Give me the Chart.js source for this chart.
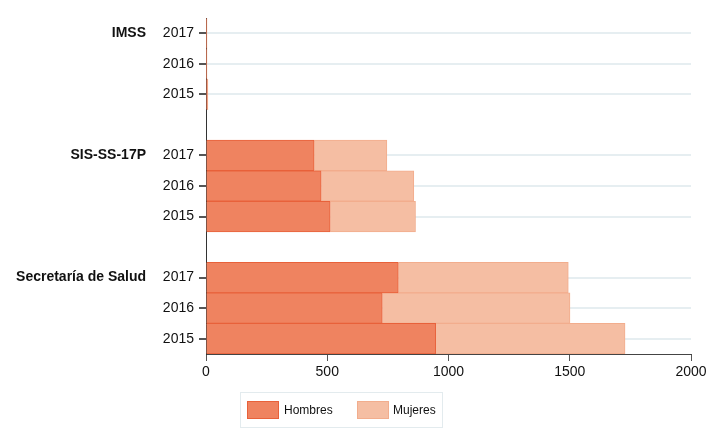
<!DOCTYPE html>
<html>
<head>
<meta charset="utf-8">
<script src="https://cdn.jsdelivr.net/npm/chart.js@4/dist/chart.umd.min.js"></script>
<style>
  html, body { margin: 0; padding: 0; background: #fff; }
  #wrap { width: 707px; height: 434px; }
</style>
</head>
<body>
<div id="wrap"><canvas id="c" width="707" height="434"></canvas></div>
<script>
// ---- data ----
const groups = ['IMSS', 'SIS-SS-17P', 'Secretaría de Salud'];
const years = ['2017', '2016', '2015'];
const hombresIMSS = [3, 3, 5];
const mujeresIMSS = [1, 1, 3];
const hombresSIS = [446, 475, 512];
const mujeresSIS = [300, 382, 352];
const hombresSalud = [793, 727, 947];
const mujeresSalud = [701, 774, 781];
const seriesNames = ['Hombres', 'Mujeres'];
const xTicks = [0, 500, 1000, 1500, 2000];

// build category rows (with a blank spacer between groups)
const labels = [];
const groupOfRow = [];
const hombres = [];
const mujeres = [];
const hData = [hombresIMSS, hombresSIS, hombresSalud];
const mData = [mujeresIMSS, mujeresSIS, mujeresSalud];
groups.forEach((g, gi) => {
  if (gi > 0) { labels.push(''); groupOfRow.push(null); hombres.push(null); mujeres.push(null); }
  years.forEach((y, yi) => {
    labels.push(y);
    groupOfRow.push(yi === 0 ? g : null);
    hombres.push(hData[gi][yi]);
    mujeres.push(mData[gi][yi]);
  });
});

const FONT = '"Liberation Sans", Arial, Helvetica, sans-serif';
const colors = {
  hFill: '#ef8360', hBorder: '#e8613a',
  mFill: '#f5bea3', mBorder: '#f2ad8d'
};

const groupLabelPlugin = {
  id: 'groupLabels',
  afterDraw(chart) {
    const ctx = chart.ctx;
    const ys = chart.scales.y;
    ctx.save();
    ctx.font = 'bold 14px ' + FONT;
    ctx.fillStyle = '#111';
    ctx.textAlign = 'right';
    ctx.textBaseline = 'middle';
    groupOfRow.forEach((g, i) => {
      if (g) ctx.fillText(g, 146, ys.getPixelForValue(i));
    });
    // legend
    const lx = 240, ly = 392, lw = 202, lh = 35;
    ctx.strokeStyle = '#e3ebee';
    ctx.lineWidth = 1;
    ctx.strokeRect(lx + 0.5, ly + 0.5, lw, lh);
    const ds = chart.data.datasets;
    const items = [{x: 247, tx: 284}, {x: 357, tx: 393}];
    ctx.font = '12px ' + FONT;
    ctx.textAlign = 'left';
    ds.forEach((d, i) => {
      ctx.fillStyle = d.backgroundColor;
      ctx.fillRect(items[i].x, 401, 32, 18);
      ctx.strokeStyle = d.borderColor;
      ctx.strokeRect(items[i].x + 0.5, 401.5, 31, 17);
      ctx.fillStyle = '#111';
      ctx.fillText(d.label, items[i].tx, 411);
    });
    ctx.restore();
  }
};

new Chart(document.getElementById('c'), {
  type: 'bar',
  data: {
    labels: labels,
    datasets: [
      { label: seriesNames[0], data: hombres, backgroundColor: colors.hFill, borderColor: colors.hBorder, borderWidth: 1, barPercentage: 1, categoryPercentage: 1 },
      { label: seriesNames[1], data: mujeres, backgroundColor: colors.mFill, borderColor: colors.mBorder, borderWidth: 1, barPercentage: 1, categoryPercentage: 1 }
    ]
  },
  options: {
    indexAxis: 'y',
    responsive: false,
    animation: false,
    layout: { padding: { top: 18, right: 16, left: 0, bottom: 0 } },
    plugins: { legend: { display: false }, tooltip: { enabled: false } },
    scales: {
      x: {
        stacked: true,
        min: 0, max: 2000,
        afterBuildTicks(s) { s.ticks = xTicks.map(v => ({ value: v })); },
        afterFit(s) { s.height = 80; s.paddingRight = 0; s.paddingLeft = 0; },
        grid: { drawOnChartArea: false, drawTicks: true, tickLength: 7, tickColor: '#555', lineWidth: 1 },
        border: { display: true, color: '#444', width: 1 },
        ticks: { color: '#111', font: { family: FONT, size: 14 }, padding: 3, maxRotation: 0, callback: (v) => String(v) }
      },
      y: {
        stacked: true,
        type: 'category',
        afterFit(s) { s.width = 206; },
        grid: {
          offset: false,
          drawTicks: true,
          tickLength: 7,
          lineWidth: 2,
          color: (c) => (labels[c.index] ? '#e6eef1' : 'rgba(0,0,0,0)'),
          tickColor: (c) => (labels[c.index] ? '#555' : 'rgba(0,0,0,0)')
        },
        border: { display: true, color: '#333', width: 1 },
        ticks: { color: '#111', font: { family: FONT, size: 14 }, padding: 5, autoSkip: false }
      }
    }
  },
  plugins: [groupLabelPlugin]
});
</script>
</body>
</html>
